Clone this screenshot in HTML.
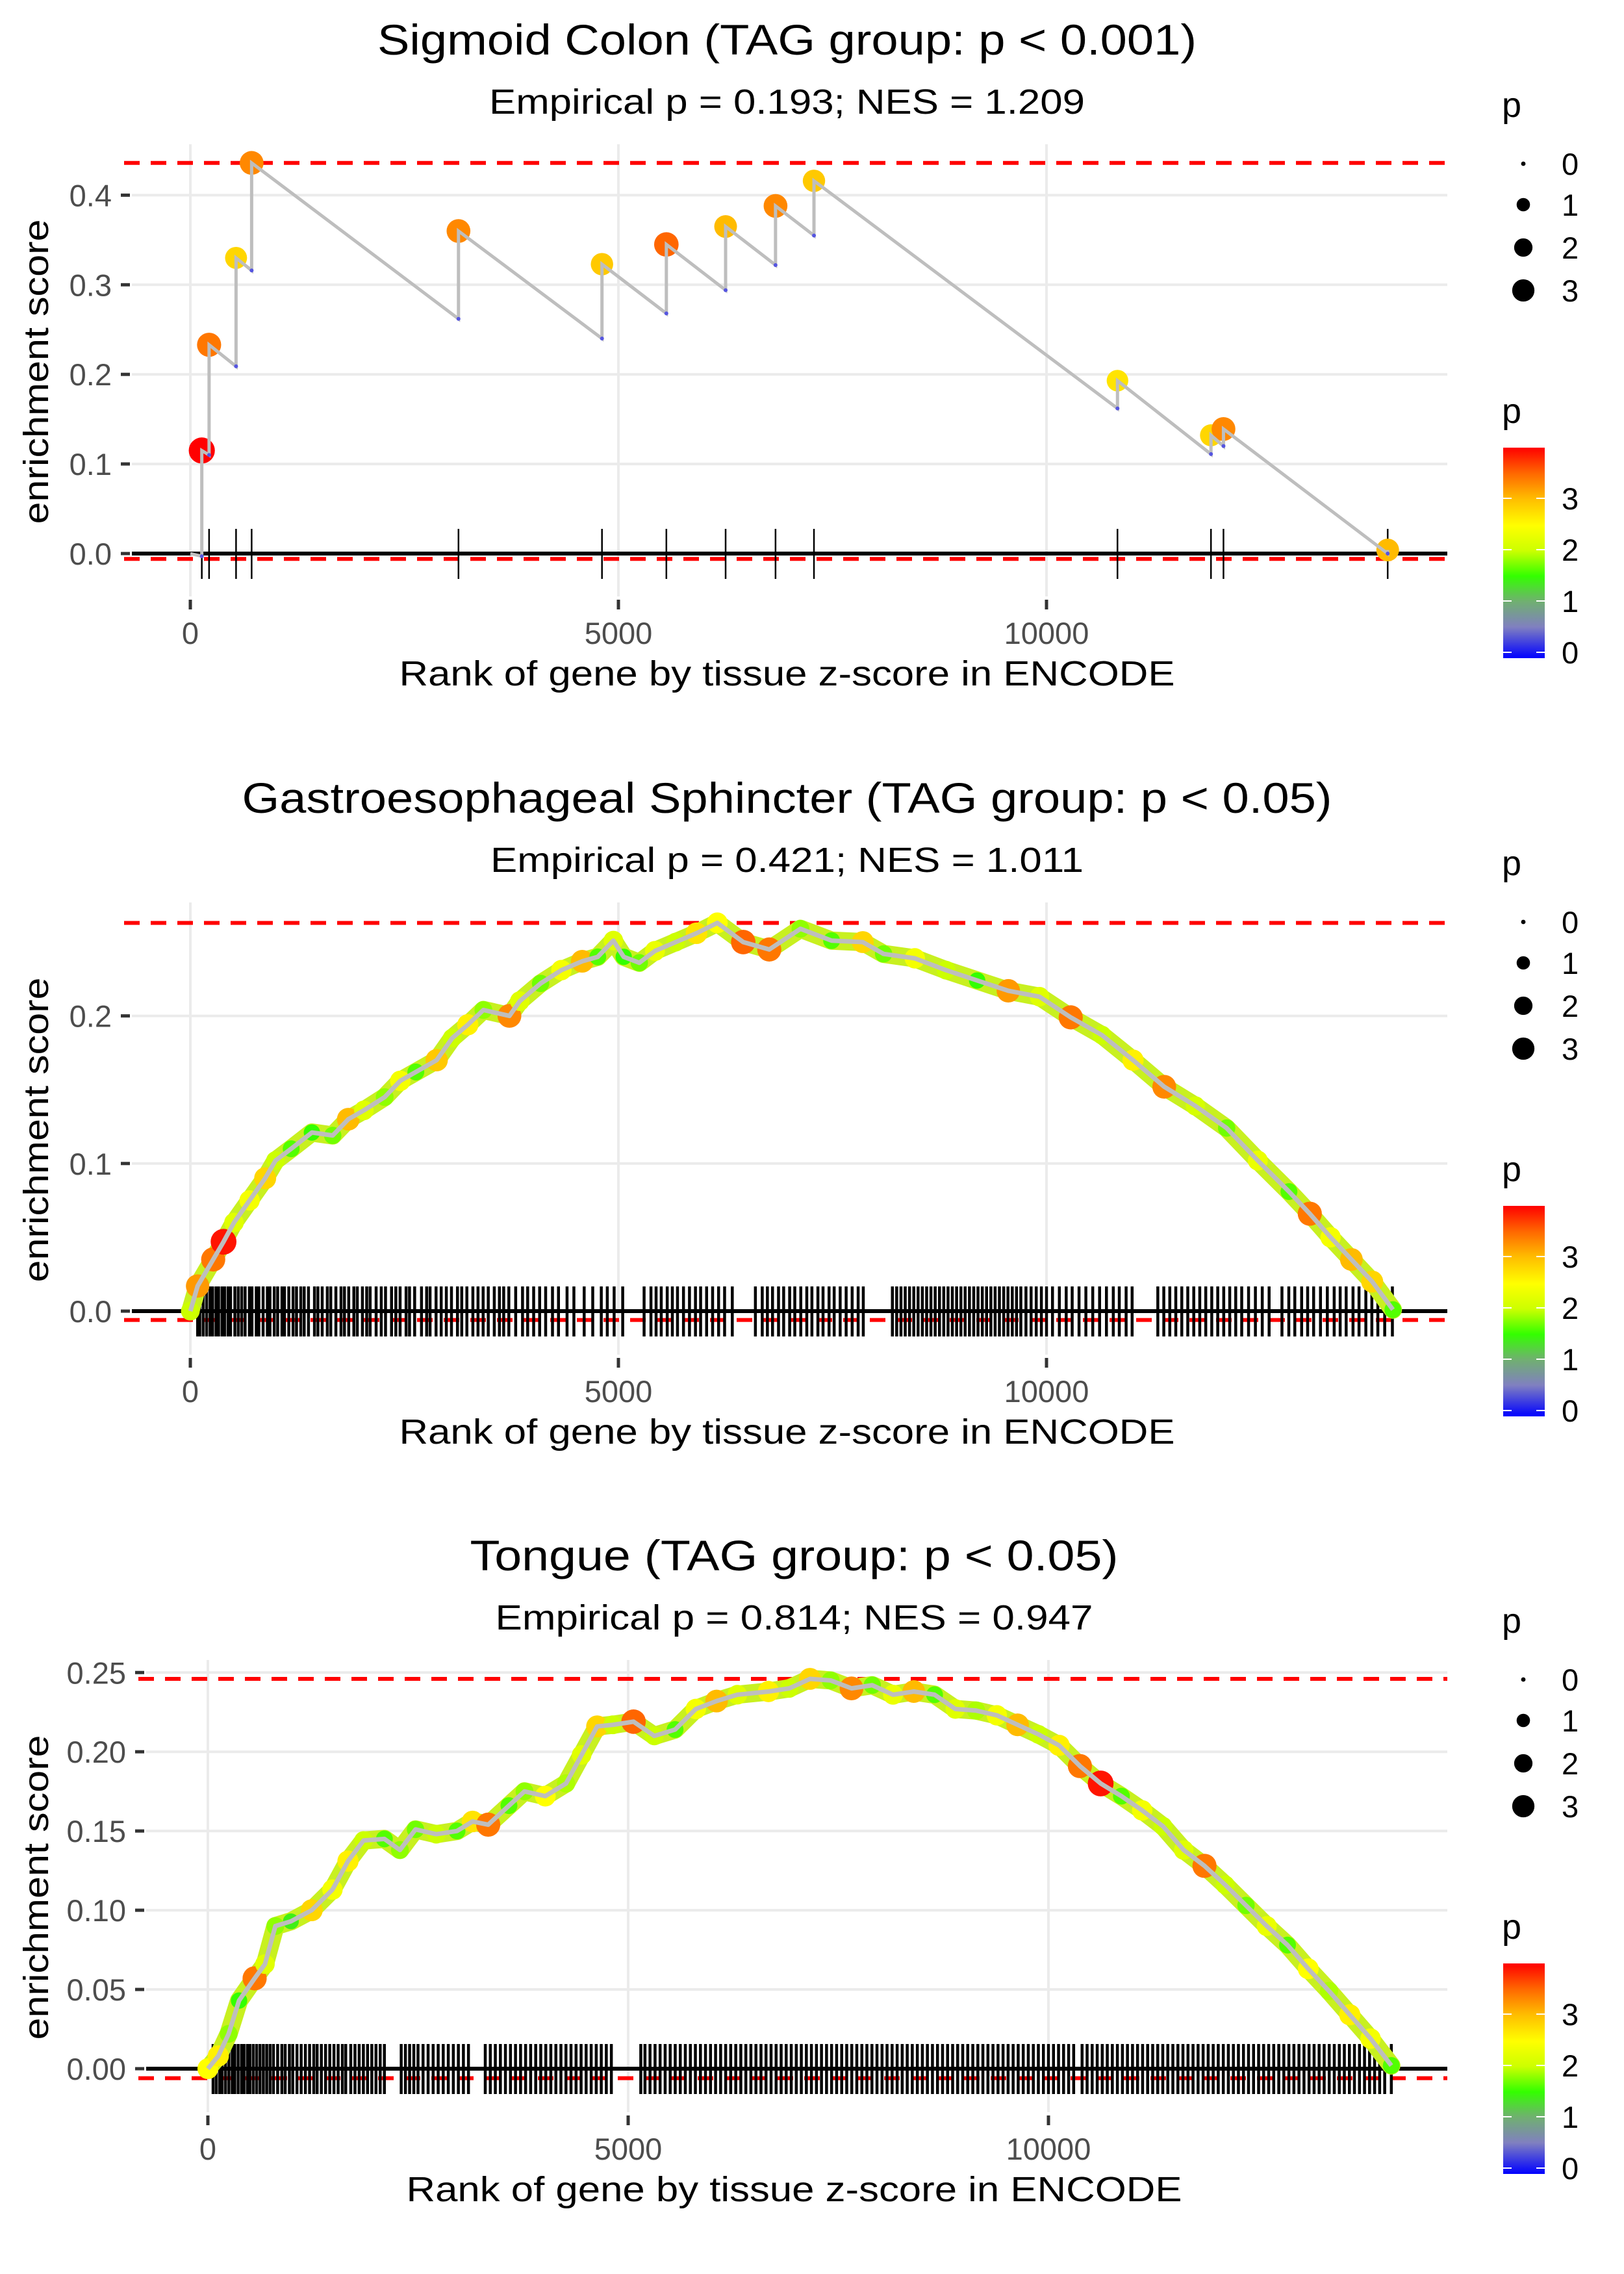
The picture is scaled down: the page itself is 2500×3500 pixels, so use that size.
<!DOCTYPE html>
<html><head><meta charset="utf-8"><style>
html,body{margin:0;padding:0;background:#fff;}
svg{display:block;font-family:"Liberation Sans",sans-serif;}
</style></head><body>
<svg id="chart" width="2500" height="3500" viewBox="0 0 2500 3500" xmlns="http://www.w3.org/2000/svg">
<defs>
<linearGradient id="pgrad" x1="0" y1="1" x2="0" y2="0">
<stop offset="0" stop-color="#0000ff"/>
<stop offset="0.148" stop-color="#8080c0"/>
<stop offset="0.27" stop-color="#70b070"/>
<stop offset="0.39" stop-color="#33ff00"/>
<stop offset="0.51" stop-color="#ccff00"/>
<stop offset="0.63" stop-color="#ffff00"/>
<stop offset="0.76" stop-color="#ffbb00"/>
<stop offset="0.88" stop-color="#ff6600"/>
<stop offset="1" stop-color="#ff0000"/>
</linearGradient>
</defs>
</svg>
<script>
// ---------- data ----------
const p1Ranks = [134,219,534,716,3132,4808,5560,6252,6835,7284,10829,11921,12067,13985];
const p1Peak  = [0.115,0.233,0.330,0.436,0.360,0.323,0.345,0.365,0.388,0.416,0.193,0.132,0.139,0.004];
const p1Low   = [-0.003,0.110,0.209,0.316,0.262,0.240,0.268,0.294,0.322,0.355,0.162,0.111,0.120,0.000];
const p1P     = [4.0,3.4,2.8,3.3,3.3,2.9,3.5,3.0,3.3,2.9,2.7,2.8,3.3,3.0];

const p2Ranks = [0,85,267,388,510,692,874,995,1178,1420,1663,1845,2027,2270,2452,2634,2877,3059,3241,3423,3727,3848,4091,4334,4577,4759,4941,5062,5244,5427,5669,5912,6155,6458,6762,7126,7490,7854,8097,8462,8826,9190,9554,9918,10283,10647,11011,11375,11739,12104,12468,12832,13075,13318,13561,13804,14046];
const p2ES = [0,0.017,0.035,0.047,0.060,0.075,0.090,0.102,0.110,0.121,0.119,0.130,0.136,0.145,0.156,0.162,0.170,0.185,0.194,0.204,0.200,0.210,0.222,0.231,0.237,0.240,0.251,0.240,0.236,0.244,0.250,0.256,0.263,0.250,0.245,0.259,0.251,0.250,0.242,0.239,0.231,0.224,0.217,0.213,0.199,0.187,0.170,0.152,0.139,0.124,0.102,0.081,0.066,0.050,0.035,0.020,0.001];
const p2P = [2.0,3.2,3.4,3.9,2.2,2.4,2.8,2.0,1.6,1.5,1.7,3.0,2.2,1.8,2.4,1.6,2.9,2.0,2.6,1.8,3.3,2.2,1.7,2.4,3.0,1.6,2.2,1.5,1.7,2.3,2.0,2.7,2.5,3.5,3.4,1.8,1.6,2.8,1.7,2.4,2.0,1.5,3.2,2.2,3.4,2.0,2.6,3.3,2.1,1.7,2.3,1.6,3.4,2.4,3.0,2.8,1.6];
const p2Rug = [85,110,150,190,230,260,300,330,370,400,440,470,520,560,600,640,690,720,770,800,850,900,930,980,1020,1070,1100,1150,1200,1240,1290,1330,1380,1450,1490,1540,1600,1640,1700,1760,1800,1850,1910,1950,2010,2060,2100,2170,2230,2280,2350,2400,2450,2520,2560,2620,2700,2760,2800,2870,2930,2990,3050,3120,3170,3230,3300,3360,3420,3480,3550,3610,3660,3720,3800,3880,3940,4010,4080,4150,4230,4300,4400,4480,4600,4700,4800,4870,4950,5050,5300,5380,5440,5500,5570,5630,5690,5760,5830,5900,5960,6030,6100,6170,6240,6330,6600,6680,6740,6800,6870,6930,7000,7060,7130,7200,7260,7330,7390,7460,7520,7590,7660,7730,7800,7860,8200,8250,8300,8350,8400,8450,8500,8550,8600,8650,8700,8750,8800,8850,8900,8950,9000,9050,9100,9150,9200,9250,9300,9350,9400,9450,9500,9550,9600,9650,9700,9760,9820,9880,9940,10000,10070,10150,10230,10300,10380,10460,10540,10620,10700,10780,10850,10930,11000,11300,11370,11440,11510,11580,11650,11720,11790,11860,11930,12000,12070,12140,12210,12280,12360,12440,12520,12600,12750,12830,12900,12980,13050,13120,13200,13280,13360,13430,13500,13580,13650,13730,13800,13870,13950,14040];

const p3Ranks = [0,124,247,371,556,679,803,988,1235,1482,1667,1853,2100,2285,2470,2717,2964,3149,3335,3582,3767,4014,4261,4446,4631,4817,5064,5311,5558,5805,6052,6299,6669,6916,7163,7410,7657,7904,8151,8398,8645,8892,9139,9386,9633,9880,10127,10374,10621,10868,11115,11362,11609,11856,12103,12350,12597,12844,13091,13338,13585,13832,14079];
const p3ES = [0,0.008,0.022,0.043,0.057,0.066,0.090,0.093,0.100,0.113,0.131,0.144,0.145,0.138,0.151,0.148,0.150,0.156,0.154,0.166,0.175,0.172,0.180,0.198,0.216,0.217,0.219,0.210,0.214,0.227,0.232,0.236,0.238,0.240,0.246,0.245,0.240,0.242,0.236,0.238,0.236,0.227,0.226,0.223,0.217,0.211,0.204,0.191,0.180,0.172,0.163,0.153,0.138,0.128,0.116,0.103,0.090,0.078,0.063,0.049,0.034,0.019,0.002];
const p3P = [2.5,2.6,1.8,1.5,3.4,2.2,1.8,1.4,2.8,2.4,2.6,2.0,1.6,1.8,1.7,2.0,1.6,2.7,3.4,1.6,1.8,2.5,1.9,2.2,2.8,2.0,3.5,2.0,1.6,2.4,3.0,2.2,2.6,2.0,2.8,1.8,3.3,1.7,2.3,3.0,1.6,2.2,1.9,2.4,3.0,2.0,2.6,3.4,3.9,1.6,2.4,2.0,2.2,3.4,2.0,1.7,2.3,1.6,2.5,1.9,2.6,2.4,1.6];
const p3Rug = [62,100,140,170,210,250,290,320,360,400,430,470,500,540,580,620,660,700,740,780,830,880,920,970,1010,1060,1110,1160,1210,1260,1300,1350,1400,1450,1500,1550,1600,1640,1700,1750,1800,1850,1900,1950,2000,2050,2100,2300,2350,2400,2450,2500,2560,2620,2680,2740,2800,2860,2920,2980,3040,3100,3300,3360,3420,3480,3540,3600,3660,3720,3780,3840,3900,3960,4020,4080,4140,4200,4260,4320,4380,4440,4500,4560,4620,4680,4740,4800,5150,5200,5260,5320,5380,5440,5500,5560,5620,5680,5740,5800,5860,5920,5980,6040,6100,6160,6220,6280,6340,6400,6460,6520,6580,6640,6700,6760,6820,6880,6940,7000,7060,7120,7180,7240,7300,7360,7420,7480,7540,7600,7660,7720,7780,7840,7900,7960,8020,8080,8140,8200,8260,8320,8380,8440,8500,8560,8620,8680,8740,8800,8860,8920,8980,9040,9100,9160,9220,9280,9340,9400,9460,9520,9580,9640,9700,9760,9820,9880,9940,10000,10060,10120,10180,10240,10300,10400,10460,10520,10580,10640,10700,10760,10820,10880,10940,11000,11060,11120,11180,11240,11300,11360,11420,11480,11540,11600,11660,11720,11780,11840,11900,11960,12020,12080,12140,12200,12260,12320,12380,12440,12500,12560,12620,12680,12740,12800,12860,12920,12980,13040,13100,13160,13220,13280,13340,13400,13460,13520,13580,13640,13700,13760,13820,13880,13940,14000,14079];

const titles = ["Sigmoid Colon (TAG group: p < 0.001)","Gastroesophageal Sphincter (TAG group: p < 0.05)","Tongue (TAG group: p < 0.05)"];
const subtitles = ["Empirical p = 0.193; NES = 1.209","Empirical p = 0.421; NES = 1.011","Empirical p = 0.814; NES = 0.947"];
const yTicks1 = [0,0.1,0.2,0.3,0.4];
const yTickLabels1 = ["0.0","0.1","0.2","0.3","0.4"];
const yTicks2 = [0,0.1,0.2];
const yTickLabels2 = ["0.0","0.1","0.2"];
const yTicks3 = [0,0.05,0.10,0.15,0.20,0.25];
const yTickLabels3 = ["0.00","0.05","0.10","0.15","0.20","0.25"];
const xTicks = [0,5000,10000];
const xTickLabels = ["0","5000","10000"];
const sizeLegendVals = [0,1,2,3];
const colorLegendVals = [0,1,2,3];

// ---------- helpers ----------
const NS = "http://www.w3.org/2000/svg";
const svg = document.getElementById("chart");
function mk(tag, attrs, parent){
  const e = document.createElementNS(NS, tag);
  for (const k in attrs) e.setAttribute(k, attrs[k]);
  (parent||svg).appendChild(e);
  return e;
}
const stops = [[0,[0,0,255]],[0.5,[128,128,192]],[1.0,[112,176,112]],[1.5,[51,255,0]],[2.0,[204,255,0]],[2.5,[255,255,0]],[3.0,[255,187,0]],[3.5,[255,102,0]],[4.0,[255,0,0]]];
function pColor(p){
  if (p<=stops[0][0]) return "rgb("+stops[0][1].join(",")+")";
  for (let i=1;i<stops.length;i++){
    if (p<=stops[i][0]){
      const t=(p-stops[i-1][0])/(stops[i][0]-stops[i-1][0]);
      const a=stops[i-1][1], b=stops[i][1];
      return "rgb("+a.map((v,j)=>Math.round(v+(b[j]-v)*t)).join(",")+")";
    }
  }
  return "rgb(255,0,0)";
}
function pRadius(p){ return Math.sqrt(12.25 + 98*Math.max(p,0)); }

const panels = [
  {off:0, left:203, x0:293, xs:659/5000, y0:852, ys:1379, yt:yTicks1, yl:yTickLabels1, labR:172},
  {off:1167, left:203, x0:293, xs:659/5000, y0:851, ys:2272, yt:yTicks2, yl:yTickLabels2, labR:172},
  {off:2333, left:225, x0:320, xs:647/5000, y0:851, ys:2439, yt:yTicks3, yl:yTickLabels3, labR:194}
];
const RIGHT = 2228, PTOP = 222, PBOT = 918;

function drawFrame(i){
  const P = panels[i];
  const g = mk("g",{});
  
  
  const X = r => P.x0 + r*P.xs;
  const Y = v => P.off + P.y0 - v*P.ys;
  P.X = X; P.Y = Y; P.g = g;
  P.yt.forEach((v,k)=>{
    const l = mk("line",{x1:P.left,x2:RIGHT,y1:Y(v),y2:Y(v),stroke:"#ebebeb","stroke-width":4},g);
    
    
    const t = mk("line",{x1:P.left-17,x2:P.left-3,y1:Y(v),y2:Y(v),stroke:"#333","stroke-width":5},g);
    
    
    const tx = mk("text",{x:P.labR,y:Y(v)+17,"text-anchor":"end","font-size":47,fill:"#4d4d4d"},g);
    tx.textContent = P.yl[k];
    
    
  });
  xTicks.forEach((v,k)=>{
    const l = mk("line",{x1:X(v),x2:X(v),y1:P.off+PTOP,y2:P.off+PBOT,stroke:"#ebebeb","stroke-width":4},g);
    
    
    const t = mk("line",{x1:X(v),x2:X(v),y1:P.off+923,y2:P.off+938,stroke:"#333","stroke-width":5},g);
    
    
    const tx = mk("text",{x:X(v),y:P.off+991,"text-anchor":"middle","font-size":47,fill:"#4d4d4d"},g);
    tx.textContent = xTickLabels[k];
    
    
  });
  const cx = (P.left+RIGHT)/2 - 4;
  const tw = [1261,1678,998][i];
  const t1 = mk("text",{x:cx,y:P.off+84,"text-anchor":"middle","font-size":66,fill:"#000",textLength:tw,lengthAdjust:"spacingAndGlyphs"},g);
  t1.textContent = titles[i];
  
  
  const t2 = mk("text",{x:cx,y:P.off+175,"text-anchor":"middle","font-size":54,fill:"#000",textLength:[917,913,920][i],lengthAdjust:"spacingAndGlyphs"},g);
  t2.textContent = subtitles[i];
  
  
  const xt = mk("text",{x:cx,y:P.off+1055,"text-anchor":"middle","font-size":54,fill:"#000",textLength:1194,lengthAdjust:"spacingAndGlyphs"},g);
  xt.textContent = "Rank of gene by tissue z-score in ENCODE";
  
  
  const yt = mk("text",{x:0,y:0,"text-anchor":"middle","font-size":54,fill:"#000",textLength:469,lengthAdjust:"spacingAndGlyphs",transform:"translate(74,"+(P.off+572)+") rotate(-90)"},g);
  yt.textContent = "enrichment score";
  
  
}

function drawRefLines(i, esArr){
  const P = panels[i];
  const mx = Math.max(...esArr), mn = Math.min(...esArr, -0.006);
  const z = mk("line",{x1:P.left,x2:RIGHT,y1:P.Y(0),y2:P.Y(0),stroke:"#000","stroke-width":6},P.g);
  
  
  [mx,mn].forEach((v,k)=>{
    const d = mk("line",{x1:P.left-12,x2:RIGHT,y1:P.Y(v),y2:P.Y(v),stroke:"#ff0000","stroke-width":6,"stroke-dasharray":"24 17"},P.g);
    
    
  });
}

function drawRug(i, ranks, w){
  const P = panels[i];
  const yz = P.Y(0);
  ranks.forEach(r=>{
    const l = mk("line",{x1:P.X(r),x2:P.X(r),y1:yz-38,y2:yz+39,stroke:"#000","stroke-width":w},P.g);
    
    
  });
}

function drawLegend(i){
  const off = panels[i].off;
  const g = mk("g",{});
  
  
  const st = mk("text",{x:2312,y:off+180,"font-size":54,fill:"#000"},g);
  st.textContent = "p";
  
  
  const sy = [252,315,381,447];
  sizeLegendVals.forEach((v,k)=>{
    const c = mk("circle",{cx:2345,cy:off+sy[k],r:pRadius(v)*0.98,fill:"#000"},g);
    
    
    const t = mk("text",{x:2404,y:off+sy[k]+17,"font-size":47,fill:"#000"},g);
    t.textContent = String(v);
    
    
  });
  const ct = mk("text",{x:2312,y:off+651,"font-size":54,fill:"#000"},g);
  ct.textContent = "p";
  
  
  const bar = mk("rect",{x:2314,y:off+689,width:64,height:324,fill:"url(#pgrad)"},g);
  
  
  colorLegendVals.forEach(v=>{
    const y = off + 1004 - v*79;
    const a = mk("line",{x1:2314,x2:2327,y1:y,y2:y,stroke:"#fff","stroke-width":2},g);
    
    
    const b = mk("line",{x1:2365,x2:2378,y1:y,y2:y,stroke:"#fff","stroke-width":2},g);
    
    
    const t = mk("text",{x:2404,y:y+17,"font-size":47,fill:"#000"},g);
    t.textContent = String(v);
    
    
  });
}

// ---------- panel 1 ----------
drawFrame(0);
drawRefLines(0, p1Peak);
drawRug(0, p1Ranks, 2.5);
(function(){
  const P = panels[0];
  let pts = [[P.X(0),P.Y(0)]];
  p1Ranks.forEach((r,k)=>{ pts.push([P.X(r),P.Y(p1Low[k])]); pts.push([P.X(r),P.Y(p1Peak[k])]); });
  p1Ranks.forEach((r,k)=>{
    const c = mk("circle",{cx:P.X(r),cy:P.Y(p1Peak[k]),r:pRadius(p1P[k]),fill:pColor(p1P[k])},P.g);
    
    
  });
  const pl = mk("polyline",{points:pts.map(p=>p.join(",")).join(" "),fill:"none",stroke:"#bebebe","stroke-width":5},P.g);
  
  
  p1Ranks.forEach((r,k)=>{
    const c = mk("circle",{cx:P.X(r),cy:P.Y(p1Low[k]),r:3,fill:"#5555e0"},P.g);
    
    
  });
})();
drawLegend(0);

// ---------- dense panels ----------
function drawDense(i, ranks, es, ps, rug){
  drawFrame(i);
  drawRefLines(i, es);
  const P = panels[i];
  drawRug(i, rug, 4.5);
  const pts = ranks.map((r,k)=>[P.X(r),P.Y(es[k])]);
  const band = mk("polyline",{points:pts.map(p=>p.join(",")).join(" "),fill:"none",stroke:"#c8f020","stroke-width":28,"stroke-linejoin":"round","stroke-linecap":"round"},P.g);
  
  
  ranks.forEach((r,k)=>{
    const c = mk("circle",{cx:P.X(r),cy:P.Y(es[k]),r:pRadius(ps[k]),fill:pColor(ps[k])},P.g);
    
    
  });
  const pl = mk("polyline",{points:pts.map(p=>p.join(",")).join(" "),fill:"none",stroke:"#bebebe","stroke-width":7,"stroke-linejoin":"round"},P.g);
  
  
  drawLegend(i);
}
drawDense(1, p2Ranks, p2ES, p2P, p2Rug);
drawDense(2, p3Ranks, p3ES, p3P, p3Rug);
</script>
</body></html>
